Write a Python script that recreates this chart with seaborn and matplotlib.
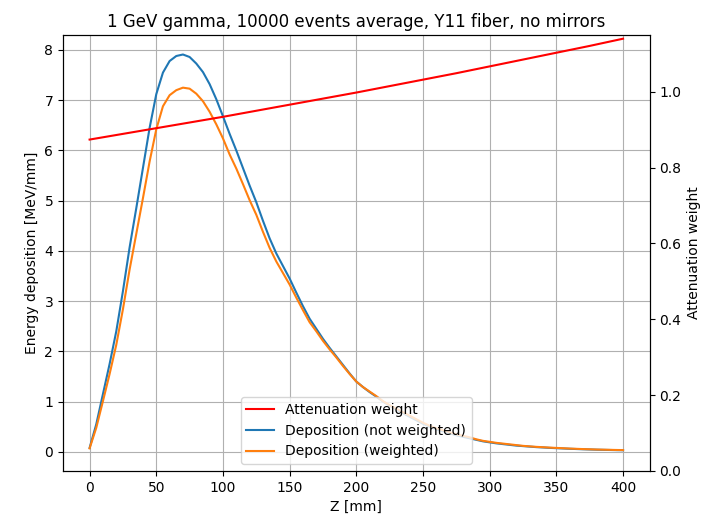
import numpy as np
import matplotlib
matplotlib.use("Agg")
import matplotlib.pyplot as plt
import seaborn as sns

# Z positions (mm) of the deposition profile, 5 mm steps
z_dep = np.arange(0, 405, 5)

# Energy deposition per mm
dep_raw = [0.08, 0.55, 1.15, 1.75, 2.40, 3.20, 4.07, 4.85, 5.65, 6.45,
           7.12, 7.55, 7.78, 7.88, 7.91, 7.86, 7.73, 7.56, 7.32, 7.02,
           6.68, 6.33, 6.00, 5.65, 5.30, 4.97, 4.60, 4.25, 3.95, 3.70,
           3.45, 3.17, 2.90, 2.65, 2.45, 2.25, 2.07, 1.90, 1.73, 1.56,
           1.40, 1.29, 1.19, 1.10, 1.00, 0.92, 0.84, 0.77, 0.70, 0.63,
           0.56, 0.50, 0.45, 0.41, 0.37, 0.33, 0.30, 0.27, 0.24, 0.21,
           0.19, 0.17, 0.155, 0.14, 0.125, 0.115, 0.105, 0.095, 0.088, 0.080,
           0.074, 0.068, 0.062, 0.057, 0.052, 0.048, 0.044, 0.041, 0.038, 0.035,
           0.033]

dep_weighted = [0.07, 0.48, 1.01, 1.55, 2.13, 2.84, 3.63, 4.34, 5.05, 5.78,
                6.42, 6.88, 7.10, 7.20, 7.25, 7.23, 7.13, 6.98, 6.77, 6.52,
                6.24, 5.92, 5.64, 5.33, 5.01, 4.72, 4.38, 4.06, 3.79, 3.56,
                3.33, 3.07, 2.82, 2.58, 2.40, 2.21, 2.04, 1.88, 1.71, 1.55,
                1.40, 1.29, 1.20, 1.11, 1.01, 0.93, 0.86, 0.79, 0.72, 0.65,
                0.58, 0.52, 0.47, 0.43, 0.39, 0.35, 0.32, 0.29, 0.25, 0.22,
                0.20, 0.18, 0.165, 0.15, 0.135, 0.12, 0.11, 0.10, 0.093, 0.085,
                0.079, 0.073, 0.066, 0.061, 0.056, 0.052, 0.047, 0.044, 0.041, 0.038,
                0.036]

# Attenuation weight along the fiber
z_att = np.arange(0, 425, 25)
att_weight = [0.874, 0.889, 0.904, 0.919, 0.934, 0.950, 0.966, 0.982, 0.998,
              1.015, 1.032, 1.049, 1.067, 1.085, 1.103, 1.121, 1.140]

fig = plt.figure(figsize=(7.07, 5.21), dpi=100)
ax = fig.add_axes([0.089, 0.096, 0.830, 0.837])
ax2 = ax.twinx()

sns.lineplot(x=z_dep, y=dep_raw, ax=ax, color='#1f77b4', lw=1.5,
             label='Deposition (not weighted)')
sns.lineplot(x=z_dep, y=dep_weighted, ax=ax, color='#ff7f0e', lw=1.5,
             label='Deposition (weighted)')
sns.lineplot(x=z_att, y=att_weight, ax=ax2, color='red', lw=1.5,
             label='Attenuation weight')

ax.set_xlim(-20, 420)
ax.set_xticks(range(0, 401, 50))
ax.set_yticks(range(0, 9))
ax.set_ylim(-0.38, 8.3)
ax2.set_ylim(0, 1.15)
ax2.set_yticks([0.0, 0.2, 0.4, 0.6, 0.8, 1.0])
ax.grid(True, color='#b0b0b0', lw=0.8)
ax.set_xlabel('Z [mm]')
ax.set_ylabel('Energy deposition [MeV/mm]')
ax2.set_ylabel('Attenuation weight')
ax.set_title('1 GeV gamma, 10000 events average, Y11 fiber, no mirrors')

h1, l1 = ax.get_legend_handles_labels()
h2, l2 = ax2.get_legend_handles_labels()
ax.get_legend().remove()
ax2.get_legend().remove()
ax2.legend(h2 + h1, l2 + l1, loc='lower center')

plt.savefig('out.png', dpi=100)
